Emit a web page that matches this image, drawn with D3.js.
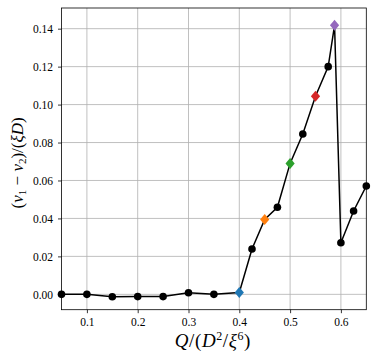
<!DOCTYPE html>
<html>
<head>
  <script src="https://d3js.org/d3.v7.min.js"></script>
  <style>
    body { margin: 0; background: #fff; }
  </style>
</head>
<body>
<div id="chart"></div>
<script type="text/javascript">

  // chart values
  var qValues = [0.05, 0.1, 0.15, 0.2, 0.25, 0.3, 0.35, 0.4, 0.425, 0.45, 0.475, 0.5,
                 0.525, 0.55, 0.575, 0.5875, 0.6, 0.625, 0.65];
  var vDiff = [0.000, 0.000, -0.0013, -0.0012, -0.0012, 0.0008, 0.0000, 0.0010, 0.0239, 0.0395,
               0.0459, 0.0690, 0.0845, 0.1044, 0.1200, 0.1418, 0.0272, 0.0439, 0.0571];
  var markedQ = [0.4, 0.45, 0.5, 0.55, 0.5875];
  var markedColors = ["#1f77b4", "#ff7f0e", "#2ca02c", "#d62728", "#9467bd"];
  var xTicks = [0.1, 0.2, 0.3, 0.4, 0.5, 0.6];
  var yTicks = [0.00, 0.02, 0.04, 0.06, 0.08, 0.10, 0.12, 0.14];

  var FONT = "'Liberation Serif', 'DejaVu Serif', serif";
  var W = 374, H = 362;
  var m = {left: 61.5, right: 7.7, top: 8, bottom: 52.3};
  var w = W - m.left - m.right, h = H - m.top - m.bottom;

  var svg = d3.select("#chart").append("svg").attr("width", W).attr("height", H);
  var g = svg.append("g").attr("transform", "translate(" + m.left + "," + m.top + ")");

  var x = d3.scaleLinear().domain([0.05, 0.65]).range([0, w]);
  var y = d3.scaleLinear().domain([-0.0081, 0.1509]).range([h, 0]);

  // grid
  g.selectAll(".gx").data(xTicks).enter().append("line")
    .attr("x1", d => x(d)).attr("x2", d => x(d)).attr("y1", 0).attr("y2", h)
    .attr("stroke", "#b0b0b0").attr("stroke-width", 0.8);
  g.selectAll(".gy").data(yTicks).enter().append("line")
    .attr("y1", d => y(d)).attr("y2", d => y(d)).attr("x1", 0).attr("x2", w)
    .attr("stroke", "#b0b0b0").attr("stroke-width", 0.8);

  var pts = qValues.map((q, i) => ({q: q, v: vDiff[i]}));

  g.append("path").datum(pts)
    .attr("fill", "none").attr("stroke", "#000").attr("stroke-width", 1.5)
    .attr("d", d3.line().x(d => x(d.q)).y(d => y(d.v)));

  var black = pts.filter(d => markedQ.indexOf(d.q) < 0);
  g.selectAll(".dot").data(black).enter().append("circle")
    .attr("cx", d => x(d.q)).attr("cy", d => y(d.v)).attr("r", 3.8).attr("fill", "#000");

  var marked = pts.filter(d => markedQ.indexOf(d.q) >= 0);
  g.selectAll(".dia").data(marked).enter().append("path")
    .attr("d", "M0,-5.5L4.6,0L0,5.5L-4.6,0Z")
    .attr("transform", d => "translate(" + x(d.q) + "," + y(d.v) + ")")
    .attr("fill", d => markedColors[markedQ.indexOf(d.q)]);

  // axes
  var xAxis = d3.axisBottom(x).tickValues(xTicks).tickSize(3.5).tickPadding(5).tickFormat(d3.format(".1f"));
  var yAxis = d3.axisLeft(y).tickValues(yTicks).tickSize(3.5).tickPadding(5).tickFormat(d3.format(".2f"));
  var gx = g.append("g").attr("transform", "translate(0," + h + ")").call(xAxis);
  var gy = g.append("g").call(yAxis);
  [gx, gy].forEach(function(a) {
    a.attr("font-family", null);
    a.select(".domain").remove();
    a.selectAll("line").attr("stroke", "#000").attr("stroke-width", 0.8);
    a.selectAll("text").attr("fill", "#000").style("font-family", FONT).style("font-size", "11.5px");
  });

  g.append("rect").attr("width", w).attr("height", h)
    .attr("fill", "none").attr("stroke", "#000").attr("stroke-width", 0.8);

  // axis labels
  var xl = svg.append("text").attr("x", m.left + w / 2 - 1).attr("y", 347)
    .attr("text-anchor", "middle").style("font-family", FONT).style("font-size", "19px")
    .style("letter-spacing", "0.6px");
  xl.append("tspan").style("font-style", "italic").text("Q");
  xl.append("tspan").text("/(");
  xl.append("tspan").style("font-style", "italic").text("D");
  xl.append("tspan").attr("dy", -7).style("font-size", "12px").text("2");
  xl.append("tspan").attr("dy", 7).text("/");
  xl.append("tspan").style("font-style", "italic").text("ξ");
  xl.append("tspan").attr("dy", -7).style("font-size", "12px").text("6");
  xl.append("tspan").attr("dy", 7).text(")");

  var yl = svg.append("text")
    .attr("transform", "translate(23," + (m.top + h / 2 + 4) + ") rotate(-90)")
    .attr("text-anchor", "middle").style("font-family", FONT).style("font-size", "17px");
  yl.append("tspan").text("(");
  yl.append("tspan").style("font-style", "italic").text("v");
  yl.append("tspan").attr("dy", 3).style("font-size", "11px").text("1");
  yl.append("tspan").attr("dy", -3).text(" − ");
  yl.append("tspan").style("font-style", "italic").text("v");
  yl.append("tspan").attr("dy", 3).style("font-size", "11px").text("2");
  yl.append("tspan").attr("dy", -3).text(")/(");
  yl.append("tspan").style("font-style", "italic").text("ξD");
  yl.append("tspan").text(")");

</script>
</body>
</html>
